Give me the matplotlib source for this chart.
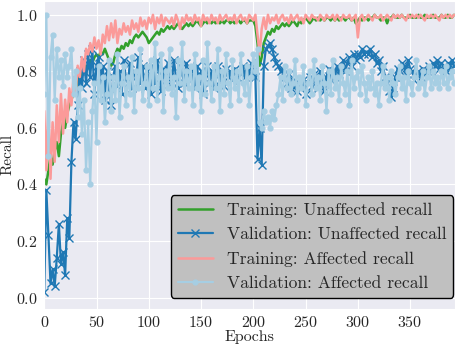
import numpy as np
import matplotlib
matplotlib.use("Agg")
import matplotlib.pyplot as plt
import seaborn as sns

# epochs sampled every 2
epochs = list(range(0, 393, 2))

train_unaffected = [
    0.42, 0.40, 0.45, 0.50, 0.47, 0.52, 0.55, 0.50, 0.58, 0.62,
    0.60, 0.65, 0.68, 0.70, 0.72, 0.74, 0.76, 0.78, 0.79, 0.80,
    0.82, 0.81, 0.84, 0.83, 0.85, 0.86, 0.85, 0.87, 0.86, 0.88,
    0.86, 0.84, 0.82, 0.83, 0.86, 0.88, 0.87, 0.89, 0.88, 0.90,
    0.89, 0.91, 0.90, 0.92, 0.93, 0.92, 0.93, 0.94, 0.93, 0.92,
    0.90, 0.91, 0.92, 0.93, 0.94, 0.93, 0.95, 0.94, 0.95, 0.96,
    0.95, 0.96, 0.95, 0.96, 0.97, 0.96, 0.95, 0.96, 0.97, 0.96,
    0.97, 0.96, 0.97, 0.98, 0.97, 0.96, 0.97, 0.98, 0.97, 0.98,
    0.97, 0.98, 0.97, 0.98, 0.97, 0.98, 0.97, 0.98, 0.98, 0.97,
    0.98, 0.97, 0.98, 0.98, 0.97, 0.98, 0.98, 0.97, 0.98, 0.98,
    0.98, 0.96, 0.90, 0.82, 0.85, 0.90, 0.92, 0.94, 0.93, 0.95,
    0.94, 0.96, 0.95, 0.96, 0.97, 0.96, 0.97, 0.96, 0.97, 0.98,
    0.97, 0.96, 0.98, 0.97, 0.98, 0.99, 0.98, 0.97, 0.98, 0.99,
    0.98, 0.99, 0.98, 0.99, 0.98, 0.99, 0.99, 0.98, 0.99, 0.98,
    0.99, 0.98, 0.99, 0.99, 0.98, 0.99, 0.99, 0.98, 0.99, 0.97,
    0.98, 0.99, 0.98, 0.99, 0.99, 0.98, 0.99, 0.99, 1.00, 0.99,
    0.99, 0.98, 0.99, 0.99, 0.97, 0.99, 0.99, 1.00, 0.99, 0.99,
    0.99, 1.00, 0.99, 0.99, 0.99, 1.00, 0.99, 0.99, 0.99, 1.00,
    0.99, 0.99, 1.00, 0.99, 0.99, 0.99, 1.00, 0.99, 0.99, 0.99,
    1.00, 0.99, 0.99, 1.00, 0.99, 0.99, 1.00,
]

val_unaffected = [
    0.02, 0.38, 0.22, 0.05, 0.10, 0.04, 0.14, 0.26, 0.12, 0.16,
    0.08, 0.28, 0.21, 0.48, 0.62, 0.56, 0.68, 0.80, 0.74, 0.84,
    0.76, 0.86, 0.78, 0.88, 0.72, 0.82, 0.85, 0.76, 0.82, 0.70,
    0.80, 0.74, 0.68, 0.78, 0.82, 0.75, 0.80, 0.72, 0.84, 0.78,
    0.76, 0.83, 0.74, 0.80, 0.78, 0.85, 0.76, 0.82, 0.74, 0.80,
    0.78, 0.72, 0.82, 0.76, 0.84, 0.79, 0.73, 0.81, 0.77, 0.83,
    0.80, 0.76, 0.84, 0.78, 0.74, 0.82, 0.79, 0.76, 0.83, 0.77,
    0.80, 0.78, 0.74, 0.82, 0.76, 0.80, 0.72, 0.79, 0.82, 0.76,
    0.80, 0.74, 0.79, 0.82, 0.77, 0.80, 0.75, 0.81, 0.78, 0.80,
    0.77, 0.81, 0.78, 0.80, 0.79, 0.82, 0.78, 0.81, 0.79, 0.83,
    0.80, 0.78, 0.49, 0.60, 0.47, 0.82, 0.88, 0.89, 0.90, 0.88,
    0.85, 0.83, 0.82, 0.80, 0.81, 0.78, 0.76, 0.79, 0.74, 0.77,
    0.75, 0.73, 0.76, 0.74, 0.77, 0.72, 0.76, 0.78, 0.75, 0.79,
    0.77, 0.74, 0.80, 0.76, 0.73, 0.78, 0.81, 0.77, 0.80, 0.78,
    0.82, 0.79, 0.81, 0.84, 0.80, 0.83, 0.85, 0.82, 0.86, 0.84,
    0.86, 0.85, 0.88, 0.86, 0.87, 0.86, 0.88, 0.85, 0.86, 0.83,
    0.84, 0.80, 0.82, 0.78, 0.76, 0.73, 0.71, 0.74, 0.78, 0.81,
    0.80, 0.83, 0.82, 0.79, 0.84, 0.81, 0.80, 0.77, 0.79, 0.80,
    0.78, 0.81, 0.79, 0.80, 0.82, 0.80, 0.83, 0.82, 0.84, 0.81,
    0.83, 0.82, 0.80, 0.83, 0.81, 0.84, 0.82,
]

train_affected = [
    0.66, 0.45, 0.70, 0.42, 0.62, 0.48, 0.68, 0.55, 0.72, 0.58,
    0.70, 0.62, 0.74, 0.68, 0.78, 0.72, 0.82, 0.78, 0.85, 0.80,
    0.88, 0.86, 0.90, 0.87, 0.92, 0.88, 0.91, 0.86, 0.93, 0.90,
    0.96, 0.91, 0.97, 0.92, 0.98, 0.90, 0.95, 0.93, 0.97, 0.94,
    0.96, 0.93, 0.98, 0.95, 0.97, 0.94, 0.99, 0.96, 0.98, 0.95,
    0.99, 0.97, 1.00, 0.95, 0.99, 0.97, 1.00, 0.96, 0.99, 0.98,
    0.97, 0.99, 0.96, 1.00, 0.98, 0.95, 0.99, 0.97, 1.00, 0.98,
    0.99, 0.97, 1.00, 0.98, 0.99, 0.96, 1.00, 0.98, 0.99, 0.97,
    1.00, 0.98, 0.99, 0.97, 1.00, 0.98, 0.99, 1.00, 0.98, 0.99,
    0.98, 1.00, 0.97, 0.99, 1.00, 0.98, 0.99, 0.97, 1.00, 0.99,
    0.98, 1.00, 0.93, 0.86, 0.95, 0.99, 0.95, 1.00, 0.97, 0.99,
    0.98, 1.00, 0.97, 0.99, 1.00, 0.98, 0.99, 0.97, 1.00, 0.98,
    0.99, 1.00, 0.98, 0.99, 0.97, 1.00, 0.99, 0.98, 1.00, 0.99,
    0.99, 0.98, 1.00, 0.99, 0.98, 1.00, 0.99, 0.99, 1.00, 0.98,
    1.00, 0.99, 0.98, 1.00, 0.99, 0.99, 1.00, 0.98, 0.99, 1.00,
    0.92, 0.99, 1.00, 0.98, 0.99, 1.00, 0.99, 0.98, 1.00, 0.99,
    0.99, 1.00, 0.98, 0.99, 1.00, 0.99, 0.98, 1.00, 0.99, 1.00,
    0.99, 1.00, 0.99, 0.98, 1.00, 0.99, 1.00, 0.99, 1.00, 0.99,
    1.00, 0.99, 0.98, 1.00, 0.99, 1.00, 0.99, 1.00, 0.99, 0.98,
    1.00, 0.99, 1.00, 0.99, 1.00, 0.99, 1.00,
]

val_affected = [
    0.72, 1.00, 0.50, 0.85, 0.93, 0.70, 0.88, 0.78, 0.84, 0.75,
    0.86, 0.78, 0.82, 0.88, 0.72, 0.80, 0.64, 0.74, 0.58, 0.70,
    0.45, 0.62, 0.40, 0.66, 0.76, 0.55, 0.82, 0.70, 0.78, 0.62,
    0.72, 0.84, 0.66, 0.78, 0.70, 0.86, 0.64, 0.76, 0.82, 0.68,
    0.78, 0.72, 0.85, 0.66, 0.80, 0.74, 0.88, 0.70, 0.76, 0.82,
    0.68, 0.84, 0.74, 0.90, 0.70, 0.78, 0.86, 0.66, 0.80, 0.74,
    0.88, 0.72, 0.78, 0.64, 0.84, 0.76, 0.90, 0.70, 0.80, 0.74,
    0.82, 0.68, 0.86, 0.74, 0.78, 0.66, 0.84, 0.72, 0.90, 0.76,
    0.70, 0.82, 0.74, 0.88, 0.66, 0.80, 0.72, 0.86, 0.76, 0.68,
    0.84, 0.74, 0.80, 0.70, 0.86, 0.76, 0.72, 0.82, 0.68, 0.78,
    0.86, 0.80, 0.88, 0.62, 0.60, 0.66, 0.62, 0.64, 0.60, 0.66,
    0.63, 0.68, 0.72, 0.78, 0.70, 0.82, 0.74, 0.80, 0.72, 0.76,
    0.84, 0.70, 0.78, 0.74, 0.82, 0.68, 0.76, 0.80, 0.72, 0.84,
    0.74, 0.78, 0.70, 0.82, 0.76, 0.66, 0.80, 0.72, 0.84, 0.74,
    0.78, 0.70, 0.82, 0.76, 0.72, 0.80, 0.68, 0.84, 0.74, 0.78,
    0.80, 0.72, 0.82, 0.76, 0.70, 0.78, 0.74, 0.80, 0.72, 0.76,
    0.68, 0.76, 0.82, 0.74, 0.78, 0.70, 0.80, 0.76, 0.72, 0.78,
    0.82, 0.74, 0.78, 0.70, 0.80, 0.76, 0.72, 0.78, 0.84, 0.74,
    0.76, 0.80, 0.72, 0.78, 0.82, 0.74, 0.80, 0.76, 0.78, 0.74,
    0.80, 0.76, 0.82, 0.74, 0.78, 0.80, 0.76,
]

sns.set_style("darkgrid")
plt.rcParams["font.family"] = ["cmr10", "DejaVu Serif"]
plt.rcParams["mathtext.fontset"] = "cm"
plt.rcParams["axes.unicode_minus"] = False
plt.rcParams["axes.formatter.use_mathtext"] = True

fig, ax = plt.subplots(figsize=(4.56, 3.47), dpi=100)
fig.subplots_adjust(left=0.097, right=0.998, top=0.998, bottom=0.11)

ax.plot(epochs, train_unaffected, color="#33a02c", lw=1.8,
        label="Training: Unaffected recall")
ax.plot(epochs, val_unaffected, color="#1f78b4", lw=1.6, marker="x", ms=6,
        label="Validation: Unaffected recall")
ax.plot(epochs, train_affected, color="#fb9a99", lw=1.8,
        label="Training: Affected recall")
ax.plot(epochs, val_affected, color="#a6cee3", lw=1.6, marker="o", ms=3.5,
        label="Validation: Affected recall")

ax.set_xlim(0, 393)
ax.set_ylim(-0.04, 1.05)
ax.set_xticks(range(0, 351, 50))
ax.set_yticks([0.0, 0.2, 0.4, 0.6, 0.8, 1.0])
ax.tick_params(labelsize=11.5, pad=1)
ax.set_xlabel("Epochs", fontsize=11.5, labelpad=0)
ax.set_ylabel("Recall", fontsize=11, labelpad=1)

leg = ax.legend(loc="lower right", bbox_to_anchor=(1.0, 0.03),
                fontsize=12.6, facecolor="#c0c0c0",
                edgecolor="black", framealpha=1, borderaxespad=0.1,
                handlelength=2.0, borderpad=0.4, labelspacing=0.5)
leg.get_frame().set_linewidth(1.0)

fig.savefig("out.png", dpi=100)
